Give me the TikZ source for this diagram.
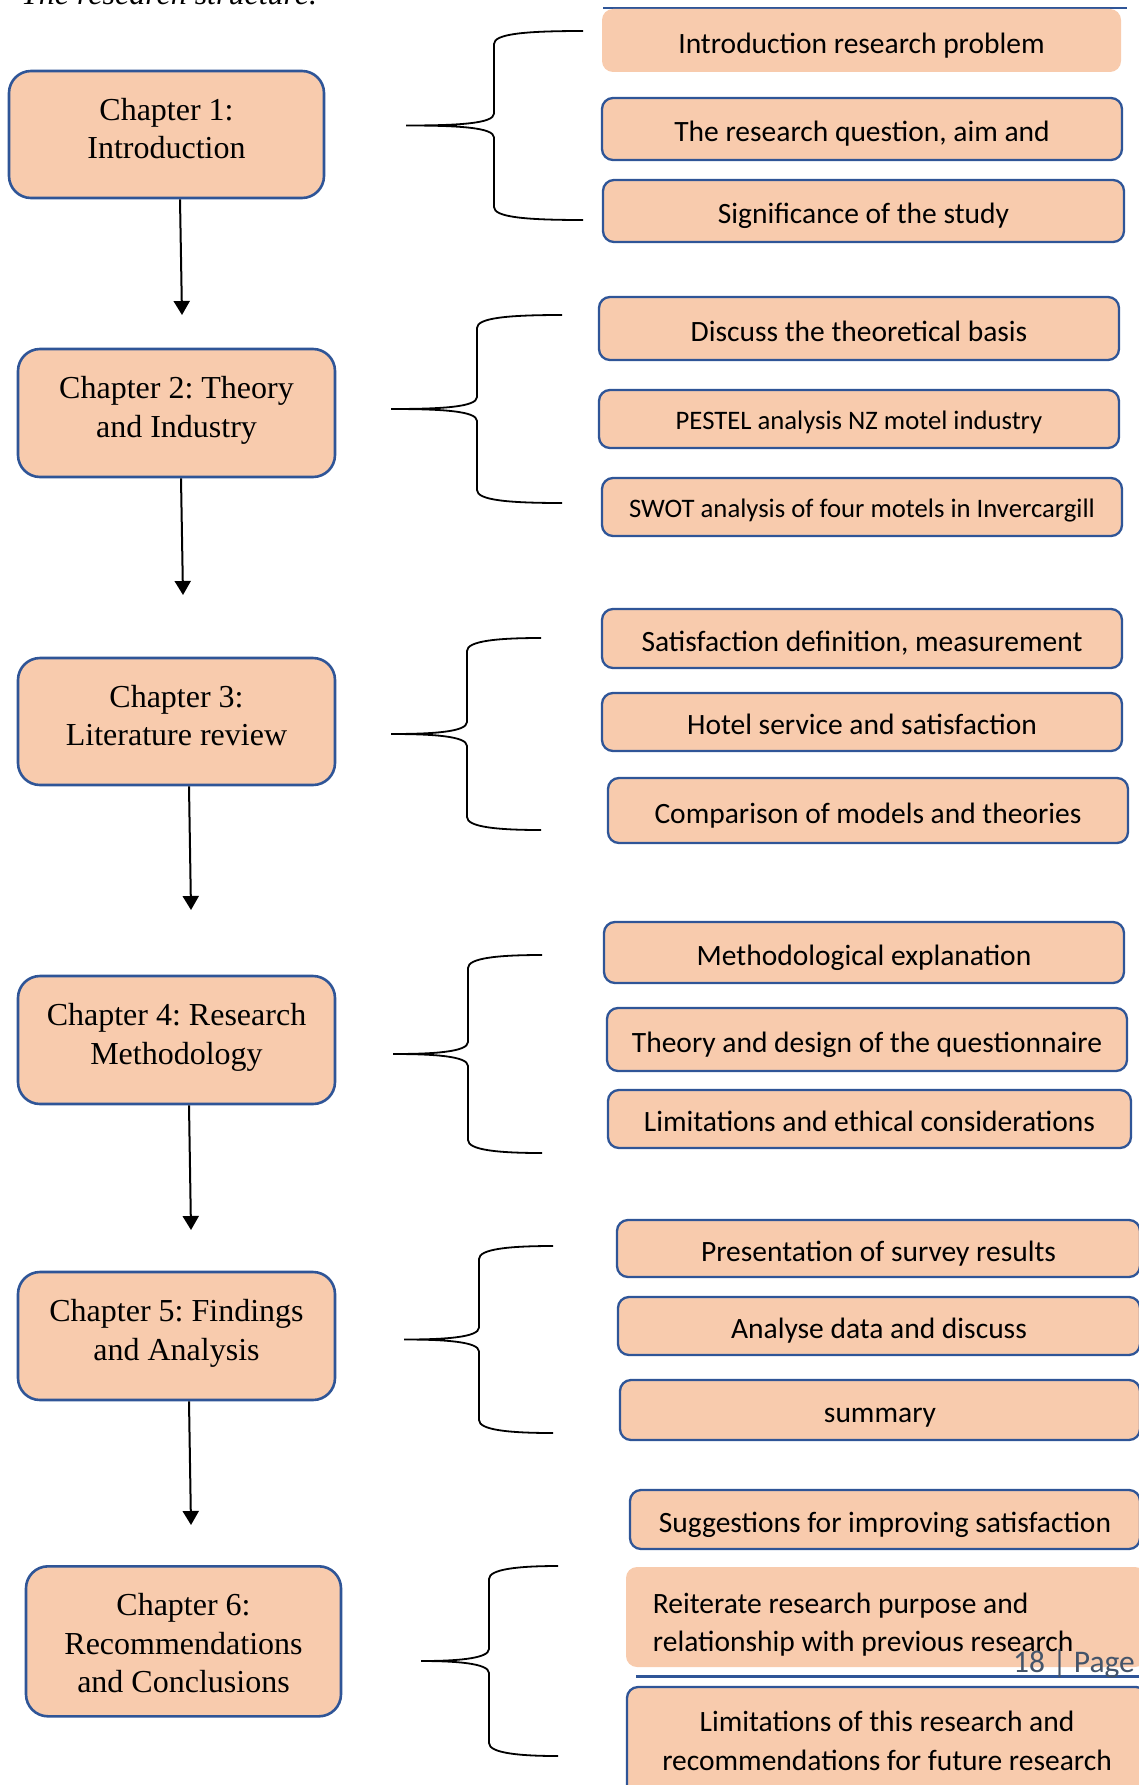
\documentclass[tikz,border=0pt]{standalone}
\usepackage{fontspec}
\setmainfont{Liberation Serif}
\newfontfamily\calfont{Carlito}
\usetikzlibrary{arrows.meta}
\frenchspacing
\definecolor{peach}{HTML}{F8CBAD}
\definecolor{bord}{HTML}{2F5597}
\definecolor{foot}{HTML}{44546A}
\tikzset{
  chap/.style={draw=bord, line width=2.6pt, fill=peach, rounded corners=22pt, align=center, inner sep=0pt,
    text height=60pt, text depth=12pt,
    font=\frenchspacing\fontsize{32}{38.5}\selectfont},
  chapthree/.style={chap, text height=103pt, text depth=0pt},
  item/.style={draw=bord, line width=2.3pt, fill=peach, rounded corners=11pt, align=center, inner sep=0pt,
    text height=25pt, text depth=0pt,
    font=\calfont\fontsize{29.5}{38.5}\selectfont},
  itemnb/.style={item, draw=none},
  small/.style={font=\calfont\fontsize{26.7}{32}\selectfont, text height=21pt, text depth=0pt},
  arr/.style={line width=2pt, -{Triangle[length=14pt,width=16pt]}},
  brc/.style={line width=1.8pt},
}
% brace: #1 tip x, #2 mid y, #3 spine x, #4 end x, #5 top y, #6 bottom y
\newcommand{\mybrace}[6]{%
  \draw[brc] (#4,#5) .. controls (#3+30,#5) and (#3,#5+3) .. (#3,#5+13)
    -- (#3,#2-12) .. controls (#3,#2-2) and (#3-35,#2) .. (#1,#2)
    .. controls (#3-35,#2) and (#3,#2+2) .. (#3,#2+12)
    -- (#3,#6-13) .. controls (#3,#6-3) and (#3+30,#6) .. (#4,#6);}
\begin{document}
\begin{tikzpicture}[x=1pt,y=-1pt]
\useasboundingbox (0,0) rectangle (1138,1785);
% title (cut off at top)
\node[anchor=base west, inner sep=0pt, font=\itshape\fontsize{32}{38}\selectfont] (title) at (21,4.5) {The research structure.};
% top line
\draw[bord, line width=2pt] (603,8) -- (1127,8);
% chapters
\node[chap, minimum width=315pt, minimum height=127pt] (c1) at (166.5,134.5) {Chapter 1:\\Introduction};
\node[chap, minimum width=317pt, minimum height=128pt] (c2) at (176.5,413) {Chapter 2: Theory\\and Industry};
\node[chap, minimum width=317pt, minimum height=127pt] (c3) at (176.5,721.5) {Chapter 3:\\Literature review};
\node[chap, minimum width=317pt, minimum height=128pt] (c4) at (176.5,1040) {Chapter 4: Research\\Methodology};
\node[chap, minimum width=317pt, minimum height=128pt] (c5) at (176.5,1336) {Chapter 5: Findings\\and Analysis};
\node[chapthree, minimum width=315pt, minimum height=150pt] (c6) at (183.5,1641.3) {Chapter 6:\\Recommendations\\and Conclusions};
% arrows
\coordinate (a1) at (182,315);
\coordinate (a2) at (183,595);
\coordinate (a3) at (191,910);
\coordinate (a4) at (191,1230);
\coordinate (a5) at (191,1525);
\draw[arr] ([xshift=13.5pt]c1.south) -- (a1);
\draw[arr] ([xshift=4.5pt]c2.south) -- (a2);
\draw[arr] ([xshift=12.5pt]c3.south) -- (a3);
\draw[arr] ([xshift=12.5pt]c4.south) -- (a4);
\draw[arr] ([xshift=12.5pt]c5.south) -- (a5);
% braces
\mybrace{406}{125.5}{494}{583}{31}{220}
\mybrace{391}{409}{477}{562}{315}{503}
\mybrace{391}{734}{467}{541}{638}{830}
\mybrace{393}{1054}{468}{542}{955}{1153}
\mybrace{404}{1339.5}{479}{553}{1246}{1433}
\mybrace{421}{1661}{489}{558}{1566}{1756}
% items
\node[itemnb, minimum width=519pt, minimum height=63pt] (b1) at (861.5,40.5) {Introduction research problem};
\node[item, minimum width=520pt, minimum height=62pt] (b2) at (862,129) {The research question, aim and};
\node[item, minimum width=521pt, minimum height=62pt] (b3) at (863.5,211) {Significance of the study};
\node[item, minimum width=520pt, minimum height=63pt] (b4) at (859,328.5) {Discuss the theoretical basis};
\node[item, small, minimum width=520pt, minimum height=58pt] (b5) at (859,419) {PESTEL analysis NZ motel industry};
\node[item, small, minimum width=520pt, minimum height=58pt] (b6) at (862,507) {SWOT analysis of four motels in Invercargill};
\node[item, minimum width=520pt, minimum height=59pt] (b7) at (862,638.5) {Satisfaction definition, measurement};
\node[item, minimum width=520pt, minimum height=58pt] (b8) at (862,722) {Hotel service and satisfaction};
\node[item, minimum width=520pt, minimum height=65pt] (b9) at (868,810.5) {Comparison of models and theories};
\node[item, minimum width=520pt, minimum height=61pt] (b10) at (864,952.5) {Methodological explanation};
\node[item, minimum width=520pt, minimum height=63pt] (b11) at (867,1039.5) {Theory and design of the questionnaire};
\node[item, minimum width=523pt, minimum height=58pt] (b12) at (869.5,1119) {Limitations and ethical considerations};
\node[item, minimum width=523pt, minimum height=57pt] (b13) at (878.5,1248.5) {Presentation of survey results};
\node[item, minimum width=522pt, minimum height=58pt] (b14) at (879,1326) {Analyse data and discuss};
\node[item, minimum width=520pt, minimum height=60pt] (b15) at (880,1410) {summary};
\node[item, minimum width=510pt, minimum height=59pt] (b16) at (885,1519.5) {Suggestions for improving satisfaction};
\node[itemnb, minimum width=520pt, minimum height=100pt] (b17) at (886,1617) {};
\node[anchor=base west, inner sep=0pt, font=\calfont\fontsize{29.5}{38.5}\selectfont, align=left] (b17t) at (652.7,1651.7) {Reiterate research purpose and\\relationship with previous research};
\node[item, minimum width=520pt, minimum height=113pt, text height=53pt] (b18) at (887,1743.5) {Limitations of this research and\\recommendations for future research};
% footer
\draw[bord, line width=3pt] (636,1676.7) -- (1140,1676.7);
\node[anchor=base west, inner sep=0pt, text=foot, font=\calfont\fontsize{31.5}{36}\selectfont] (pg) at (1013,1672.7) {18 | Page};
\end{tikzpicture}
\end{document}
